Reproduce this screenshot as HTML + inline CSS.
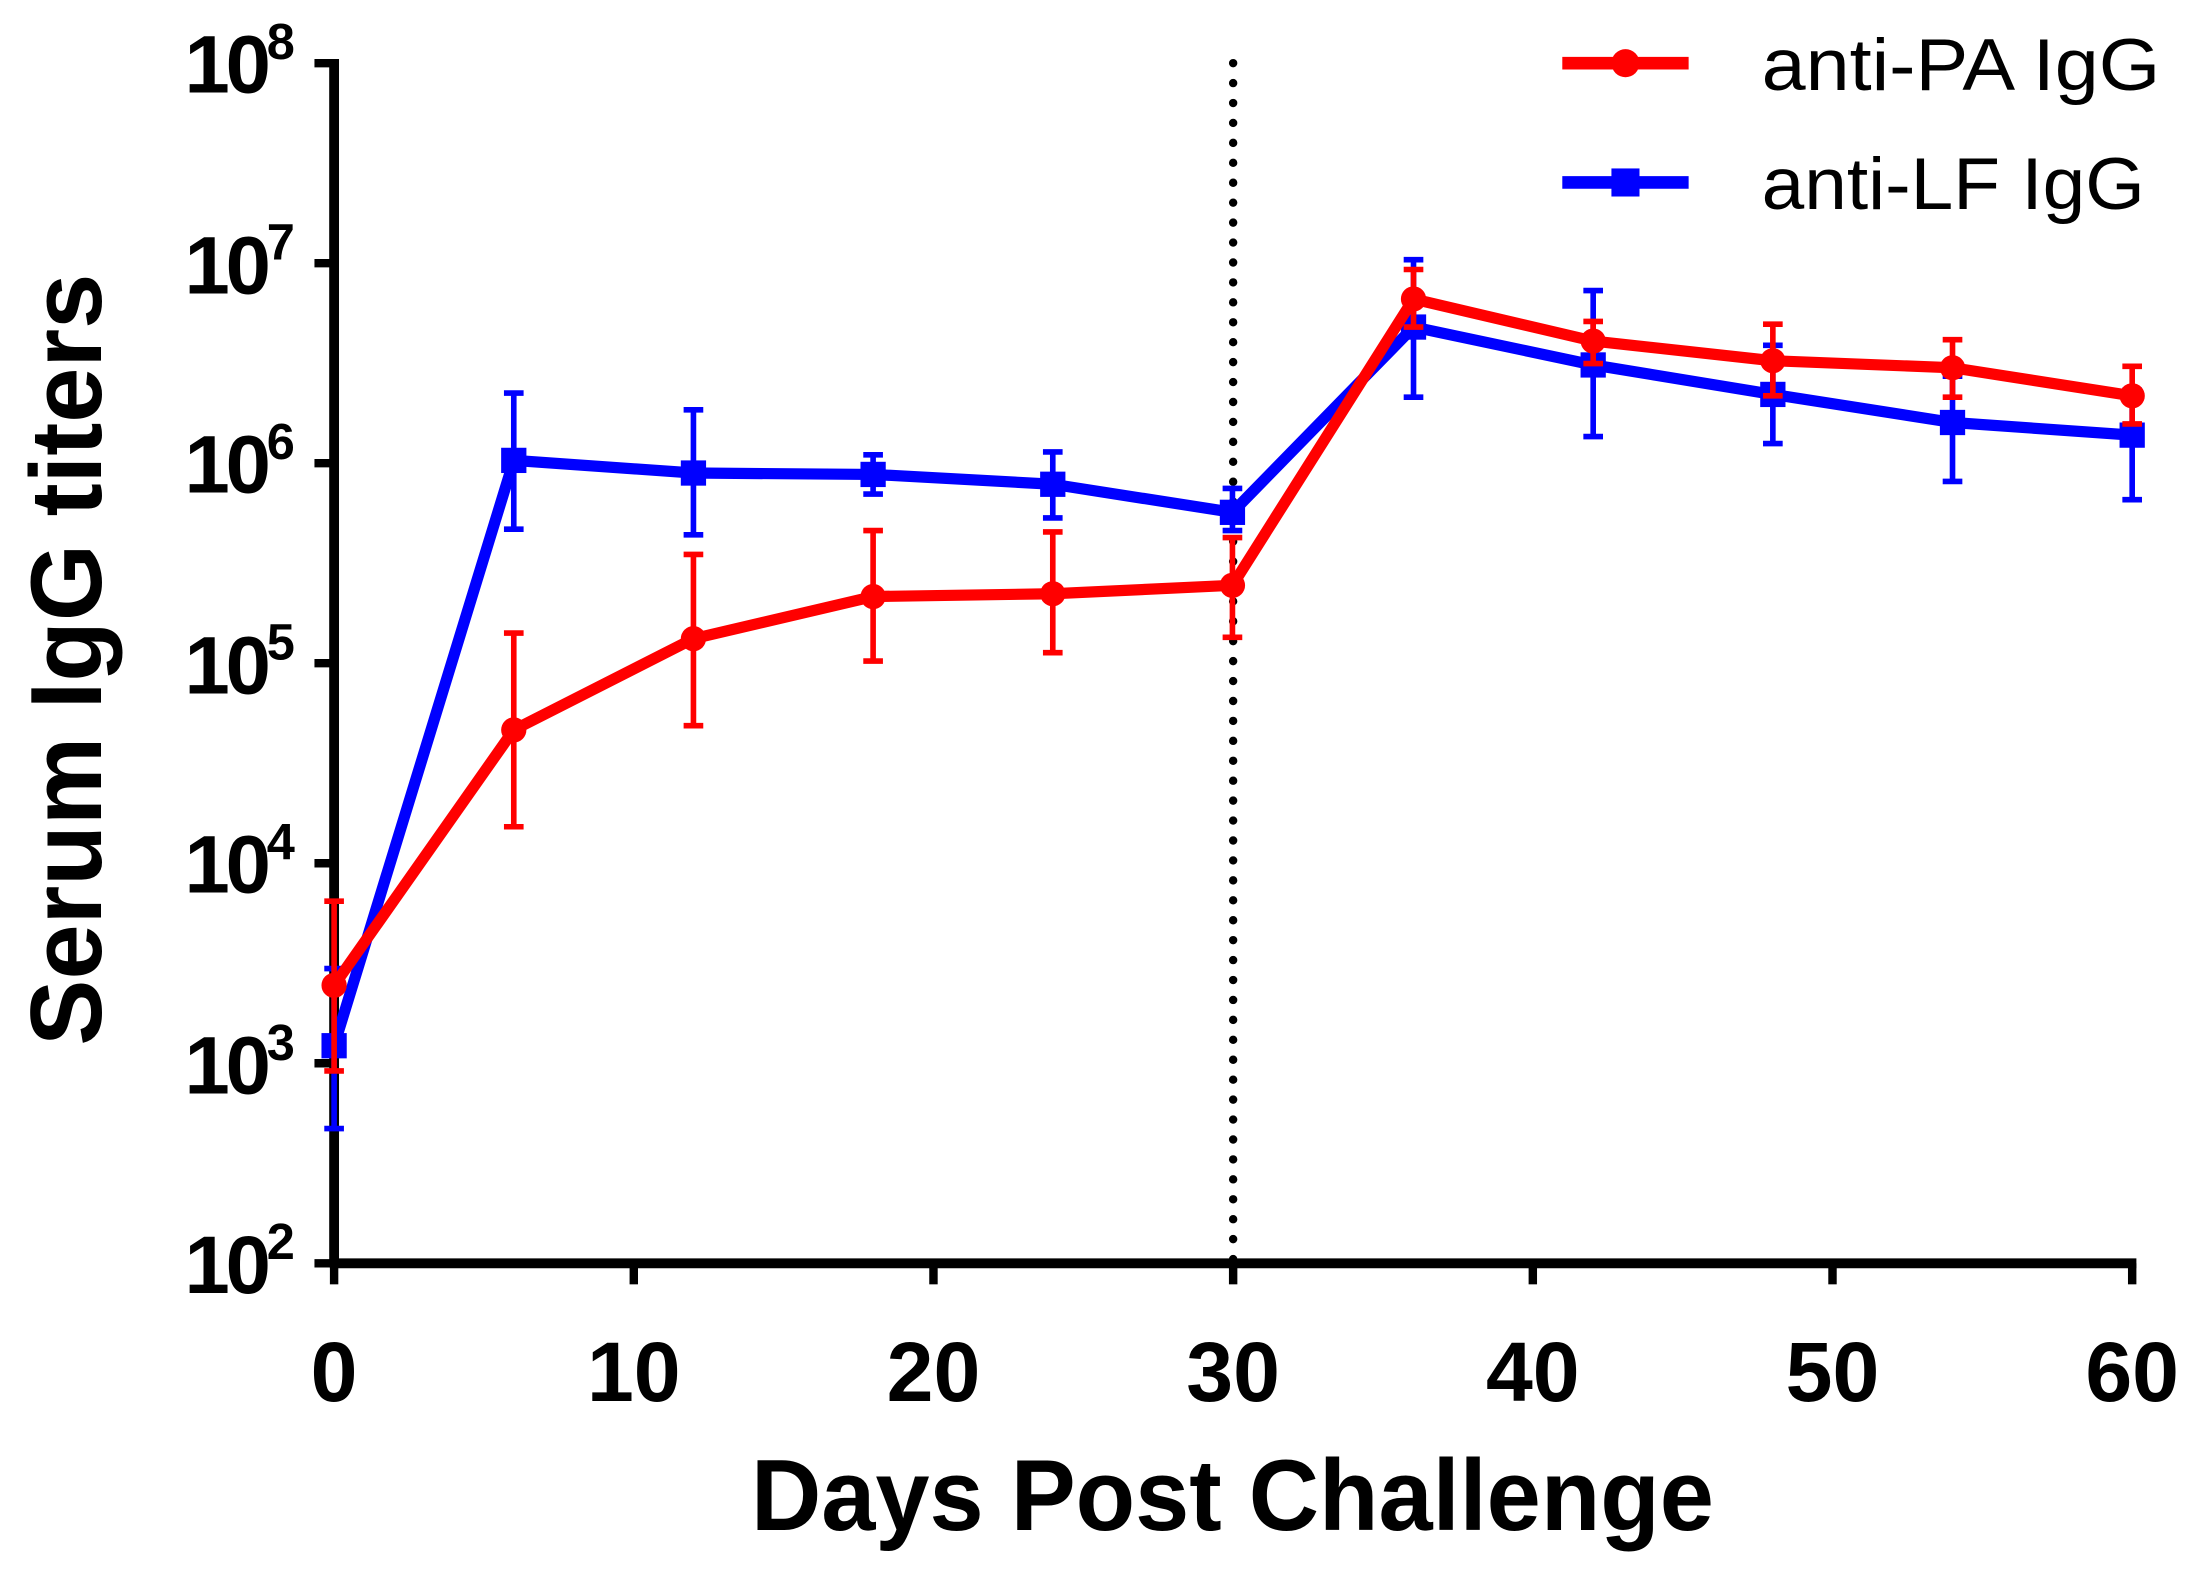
<!DOCTYPE html><html><head><style>body{margin:0;background:#fff}svg{display:block}</style></head><body>
<svg width="2201" height="1569" viewBox="0 0 1568 1117.8" xmlns="http://www.w3.org/2000/svg" font-family="Liberation Sans, sans-serif">
<g stroke="#000" stroke-width="7" fill="none">
<line x1="238" y1="42" x2="238" y2="903"/>
<line x1="235" y1="900" x2="1522" y2="900"/>
<g stroke-width="6">
<line x1="224" y1="45" x2="238" y2="45"/><line x1="224" y1="187.5" x2="238" y2="187.5"/><line x1="224" y1="330" x2="238" y2="330"/><line x1="224" y1="472.5" x2="238" y2="472.5"/><line x1="224" y1="615" x2="238" y2="615"/><line x1="224" y1="757.5" x2="238" y2="757.5"/><line x1="224" y1="900" x2="238" y2="900"/>
<line x1="238" y1="900" x2="238" y2="915"/><line x1="451.5" y1="900" x2="451.5" y2="915"/><line x1="665" y1="900" x2="665" y2="915"/><line x1="878.5" y1="900" x2="878.5" y2="915"/><line x1="1092" y1="900" x2="1092" y2="915"/><line x1="1305.5" y1="900" x2="1305.5" y2="915"/><line x1="1519" y1="900" x2="1519" y2="915"/>
</g>
<line x1="878.5" y1="45" x2="878.5" y2="900" stroke-width="6" stroke-dasharray="0 14.2" stroke-linecap="round"/>
</g>
<g font-weight="bold" font-size="58" text-anchor="end" letter-spacing="-3">
<text x="207" y="66">10<tspan font-size="36" dy="-24">8</tspan></text>
<text x="207" y="209">10<tspan font-size="36" dy="-24">7</tspan></text>
<text x="207" y="351">10<tspan font-size="36" dy="-24">6</tspan></text>
<text x="207" y="494">10<tspan font-size="36" dy="-24">5</tspan></text>
<text x="207" y="636">10<tspan font-size="36" dy="-24">4</tspan></text>
<text x="207" y="779">10<tspan font-size="36" dy="-24">3</tspan></text>
<text x="207" y="921">10<tspan font-size="36" dy="-24">2</tspan></text>
</g>
<g font-weight="bold" font-size="60" text-anchor="middle">
<text x="238" y="998">0</text><text x="451.5" y="998">10</text><text x="665" y="998">20</text><text x="878.5" y="998">30</text><text x="1092" y="998">40</text><text x="1305.5" y="998">50</text><text x="1519" y="998">60</text>
</g>
<text x="878" y="1090" font-weight="bold" font-size="72" text-anchor="middle" textLength="686" lengthAdjust="spacingAndGlyphs">Days Post Challenge</text>
<text transform="translate(72,470) rotate(-90)" font-weight="bold" font-size="72" text-anchor="middle" textLength="550" lengthAdjust="spacingAndGlyphs">Serum IgG titers</text>
<g stroke="#0000ff" stroke-width="4">
<path d="M238 690V804M231 690h14M231 804h14 M366 280V377M359 280h14M359 377h14 M494 292V381M487 292h14M487 381h14 M622 324V352M615 324h14M615 352h14 M750 322V369M743 322h14M743 369h14 M878 348V378M871 348h14M871 378h14 M1007 185V283M1000 185h14M1000 283h14 M1135 207V311M1128 207h14M1128 311h14 M1263 246V316M1256 246h14M1256 316h14 M1391 268V343M1384 268h14M1384 343h14 M1519 278V356M1512 278h14M1512 356h14"/>
</g>
<polyline fill="none" stroke="#0000ff" stroke-width="8" stroke-linejoin="round" points="238,745 366,328 494,337 622,338 750,345 878,365 1007,233 1135,260 1263,281 1391,301 1519,310"/>
<g fill="#0000ff">
<rect x="229" y="736" width="18" height="18"/><rect x="357" y="319" width="18" height="18"/><rect x="485" y="328" width="18" height="18"/><rect x="613" y="329" width="18" height="18"/><rect x="741" y="336" width="18" height="18"/><rect x="869" y="356" width="18" height="18"/><rect x="998" y="224" width="18" height="18"/><rect x="1126" y="251" width="18" height="18"/><rect x="1254" y="272" width="18" height="18"/><rect x="1382" y="292" width="18" height="18"/><rect x="1510" y="301" width="18" height="18"/>
</g>
<g stroke="#ff0000" stroke-width="4">
<path d="M238 642V763M231 642h14M231 763h14 M366 451V589M359 451h14M359 589h14 M494 395V517M487 395h14M487 517h14 M622 378V471M615 378h14M615 471h14 M750 379V465M743 379h14M743 465h14 M878 383V454M871 383h14M871 454h14 M1007 192V233M1000 192h14M1000 233h14 M1135 229V259M1128 229h14M1128 259h14 M1263 231V282M1256 231h14M1256 282h14 M1391 242V283M1384 242h14M1384 283h14 M1519 261V302M1512 261h14M1512 302h14"/>
</g>
<polyline fill="none" stroke="#ff0000" stroke-width="8" stroke-linejoin="round" points="238,702 366,520 494,455 622,425 750,423 878,417 1007,213 1135,243 1263,257 1391,262 1519,282"/>
<g fill="#ff0000">
<circle cx="238" cy="702" r="9"/><circle cx="366" cy="520" r="9"/><circle cx="494" cy="455" r="9"/><circle cx="622" cy="425" r="9"/><circle cx="750" cy="423" r="9"/><circle cx="878" cy="417" r="9"/><circle cx="1007" cy="213" r="9"/><circle cx="1135" cy="243" r="9"/><circle cx="1263" cy="257" r="9"/><circle cx="1391" cy="262" r="9"/><circle cx="1519" cy="282" r="9"/>
</g>
<line x1="1113" y1="45" x2="1203" y2="45" stroke="#ff0000" stroke-width="9"/><circle cx="1158" cy="45" r="10" fill="#ff0000"/>
<line x1="1113" y1="130" x2="1203" y2="130" stroke="#0000ff" stroke-width="9"/><rect x="1148" y="120" width="20" height="20" fill="#0000ff"/>
<text x="1255" y="64" font-size="52" textLength="284" lengthAdjust="spacingAndGlyphs">anti-PA IgG</text>
<text x="1255" y="149" font-size="52" textLength="273" lengthAdjust="spacingAndGlyphs">anti-LF IgG</text>
</svg>
</body></html>
